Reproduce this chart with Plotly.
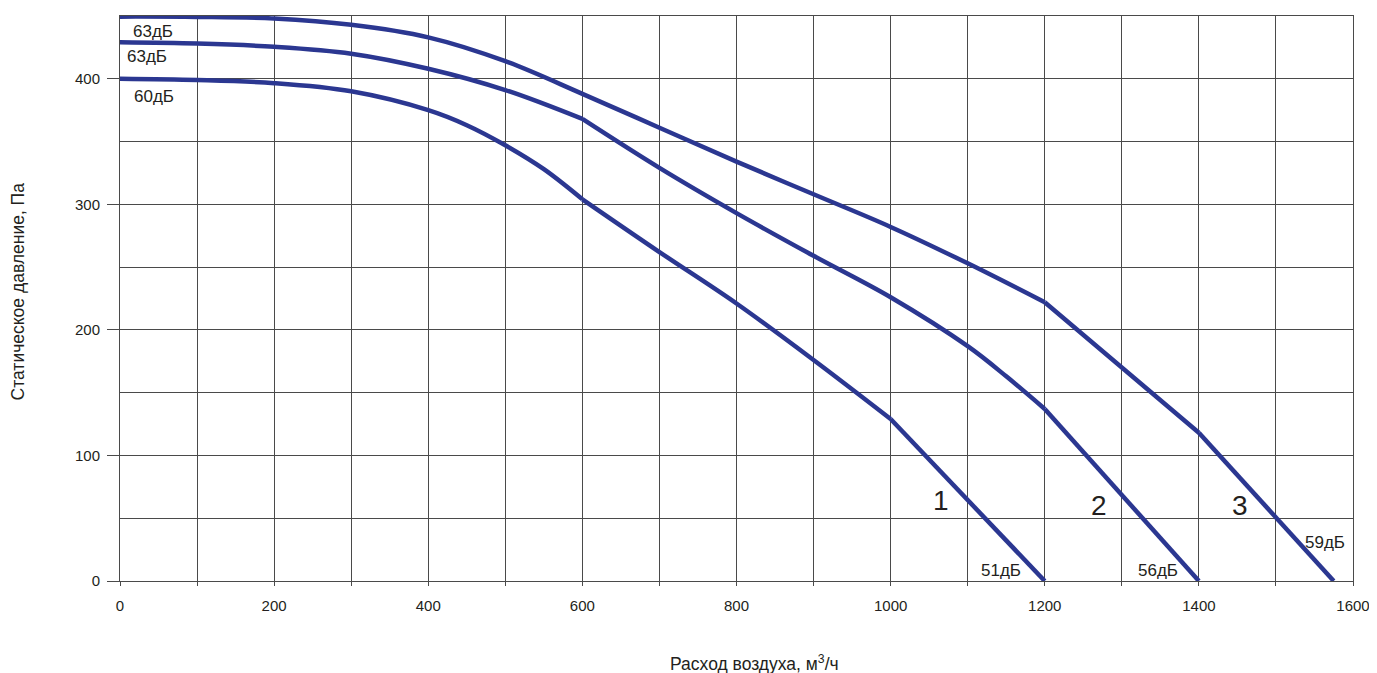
import plotly.graph_objects as go

# Curve 1 (lowest)
x1 = [0, 100, 200, 300, 400, 450, 500, 550, 600, 700, 800, 900, 1000, 1200]
y1 = [400, 399, 396.5, 390, 375, 363, 347, 328, 304, 262, 221, 176, 129, 0]
# Curve 2 (middle)
x2 = [0, 100, 200, 300, 400, 500, 600, 700, 800, 900, 1000, 1100, 1150, 1200, 1400]
y2 = [429, 428, 425.5, 420, 408, 391, 368, 329, 293, 259, 226, 187, 163, 137, 0]
# Curve 3 (top)
x3 = [0, 100, 200, 300, 400, 500, 600, 700, 800, 900, 1000, 1100, 1200, 1300, 1400, 1575]
y3 = [449.5, 449.3, 448, 443, 433, 414, 388, 361, 334, 308, 282, 253, 222, 170, 118, 0]

# x positions where each curve has a sharp corner
kinks1 = [600, 1000]
kinks2 = [600, 1200]
kinks3 = [1200, 1400]

curve_names = ["1", "2", "3"]
start_labels = ["60дБ", "63дБ", "63дБ"]
end_labels = ["51дБ", "56дБ", "59дБ"]

x_tickvals = [0, 200, 400, 600, 800, 1000, 1200, 1400, 1600]
y_tickvals = [0, 100, 200, 300, 400]

LINE = "#2B3791"
GRID = "#4a4a4a"
TXT = "#231F20"
FONT = "Liberation Sans, Arial, sans-serif"

fig = go.Figure()


def add_curve(xs, ys, kinks, name):
    cuts = [0] + [xs.index(k) for k in kinks] + [len(xs) - 1]
    for a, b in zip(cuts[:-1], cuts[1:]):
        sx, sy = xs[a:b + 1], ys[a:b + 1]
        shape = "spline" if len(sx) > 2 else "linear"
        fig.add_trace(go.Scatter(x=sx, y=sy, mode="lines", name=name,
                                 line=dict(color=LINE, width=4.5, shape=shape, smoothing=1.0),
                                 showlegend=False, hoverinfo="x+y"))


add_curve(x1, y1, kinks1, curve_names[0])
add_curve(x2, y2, kinks2, curve_names[1])
add_curve(x3, y3, kinks3, curve_names[2])

ann = []
# start labels
ann.append(dict(x=15, y=386, text=start_labels[0], xanchor="left", yanchor="middle"))
ann.append(dict(x=6, y=418, text=start_labels[1], xanchor="left", yanchor="middle"))
ann.append(dict(x=14, y=438, text=start_labels[2], xanchor="left", yanchor="middle"))
# end labels
ann.append(dict(x=1115, y=8, text=end_labels[0], xanchor="left", yanchor="middle"))
ann.append(dict(x=1318, y=8, text=end_labels[1], xanchor="left", yanchor="middle"))
ann.append(dict(x=1535, y=31, text=end_labels[2], xanchor="left", yanchor="middle"))
for a in ann:
    a.update(xref="x", yref="y", showarrow=False, font=dict(family=FONT, size=17, color=TXT))
    fig.add_annotation(**a)

for xv, yv, t in [(1065, 64, curve_names[0]), (1270, 60, curve_names[1]), (1453, 60, curve_names[2])]:
    fig.add_annotation(x=xv, y=yv, xref="x", yref="y", text=t, showarrow=False,
                       xanchor="center", yanchor="middle",
                       font=dict(family=FONT, size=28, color=TXT))

# axis titles
fig.add_annotation(x=-0.0825, y=0.513, xref="paper", yref="paper", text="Статическое давление, Па",
                   textangle=-90, showarrow=False, xanchor="center", yanchor="middle",
                   font=dict(family=FONT, size=17.5, color=TXT))
fig.add_annotation(x=0.515, y=-0.1445, xref="paper", yref="paper", text="Расход воздуха, м<sup>3</sup>/ч",
                   showarrow=False, xanchor="center", yanchor="middle",
                   font=dict(family=FONT, size=17.5, color=TXT))

fig.update_layout(
    width=1369, height=665,
    margin=dict(l=112, r=20, t=7, b=92),
    plot_bgcolor="white", paper_bgcolor="white",
    font=dict(family=FONT, size=15, color=TXT),
    xaxis=dict(range=[0, 1600], tickvals=x_tickvals, ticks="outside", ticklen=4,
               tickcolor=GRID, showgrid=True, gridcolor=GRID, gridwidth=1,
               minor=dict(dtick=100, showgrid=True, gridcolor=GRID, ticks="outside", ticklen=4, tickcolor=GRID),
               showline=True, linecolor=GRID, mirror=True, zeroline=False,
               ticklabelstandoff=7, tickfont=dict(size=15, color=TXT)),
    yaxis=dict(range=[0, 450], tickvals=y_tickvals, ticks="outside", ticklen=12,
               tickcolor=GRID, showgrid=True, gridcolor=GRID, gridwidth=1,
               minor=dict(dtick=50, showgrid=True, gridcolor=GRID, ticks=""),
               showline=True, linecolor=GRID, mirror=True, zeroline=False,
               ticklabelstandoff=4, tickfont=dict(size=15, color=TXT)),
)

fig.write_html("out.html")
